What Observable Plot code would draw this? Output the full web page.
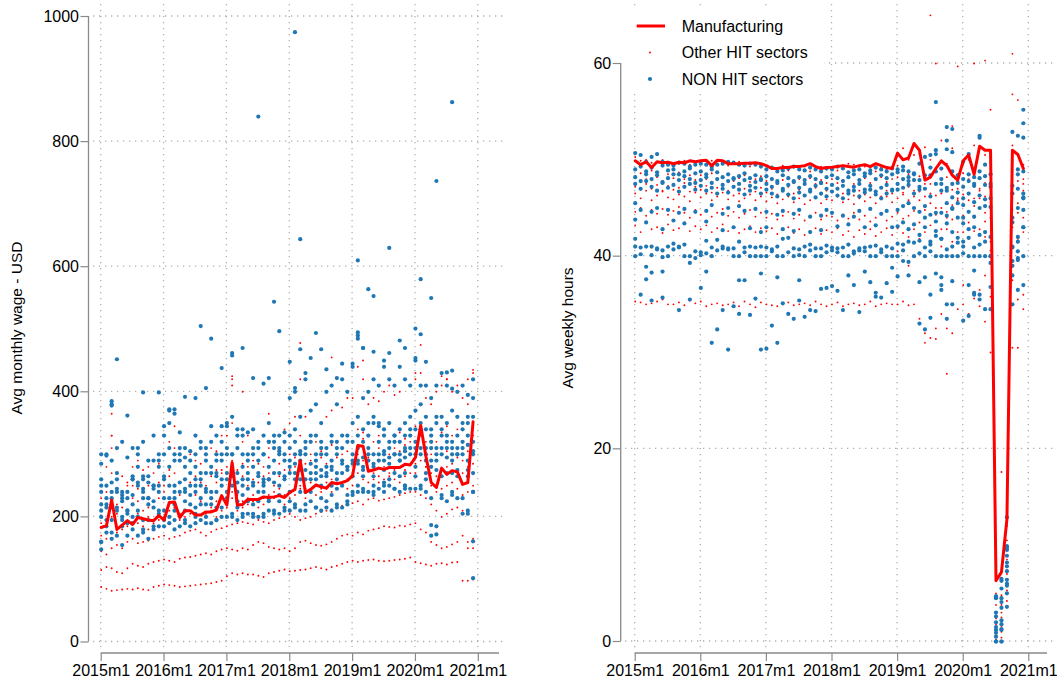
<!DOCTYPE html>
<html><head><meta charset="utf-8">
<script src="https://cdn.jsdelivr.net/npm/d3@7"></script>
<script src="https://cdn.jsdelivr.net/npm/@observablehq/plot@0.6"></script>
<style>
body{margin:0;background:#fff;}
#wrap{position:relative;width:1057px;height:683px;overflow:hidden;background:#fff;}
#wrap svg{position:absolute;top:0;}
</style></head><body><div id="wrap"></div>
<script>
// ---------- categories / ticks ----------
const yearTicks = [2015, 2016, 2017, 2018, 2019, 2020, 2021];
const yearLabels = ["2015m1", "2016m1", "2017m1", "2018m1", "2019m1", "2020m1", "2021m1"];
const wageTicks = [0, 200, 400, 600, 800, 1000];
const hoursTicks = [0, 20, 40, 60];
const legendNames = ["Manufacturing", "Other HIT sectors", "NON HIT sectors"];
const wageTitle = "Avg monthly wage - USD";
const hoursTitle = "Avg weekly hours";

// ---------- Manufacturing (72 months, 2015m1..2020m12) ----------
const manufWage = [183,186,227,180,187,194,188,199,197,195,194,202, 195,223,224,199,210,210,203,203,208,208,211,234,
  219,287,219,220,228,228,228,232,231,232,234,231, 239,244,290,239,244,251,248,246,255,253,255,258,
  266,314,313,273,275,278,276,279,279,279,284,283, 295,346,297,255,247,278,268,274,272,252,255,352];
const manufHours = [49.9,49.5,49.8,49.2,49.8,49.7,49.75,49.6,49.75,49.7,49.9,49.8, 49.9,49.95,49.4,49.95,49.9,49.6,49.6,49.6,49.65,49.65,49.7,49.6,
  49.4,49.1,49.1,49.2,49.2,49.3,49.3,49.4,49.6,49.3,49.1,49.2, 49.24,49.3,49.4,49.3,49.24,49.4,49.5,49.3,49.6,49.4,49.2,49.1,
  50.7,50.0,50.2,51.7,51.0,47.9,48.2,49.1,49.9,49.4,48.4,47.9, 49.9,50.5,48.5,51.4,51.0,51.0,6.3,7.2,12.7,51.0,50.55,49.1];

// ---------- NON HIT sectors, wage (one string per sector, 72 months; "-" = no point) ----------
const nonHitWage = [
"300 298 380 310 320 362 310 300 320 290 330 300 345 370 365 335 310 305 330 320 310 345 330 320 350 360 340 330 335 340 320 330 350 320 330 335 390 400 360 420 370 380 350 400 410 380 420 400 440 490 470 400 420 410 450 420 410 440 420 410 450 410 410 390 410 430 410 405 400 410 395 420",
"285 250 255 270 235 295 260 310 265 230 250 290 300 350 290 300 295 290 280 270 300 320 300 345 345 300 310 300 290 280 310 300 320 310 305 320 330 340 305 320 330 300 320 310 330 320 310 330 350 360 390 330 350 345 330 320 330 320 330 340 370 380 360 340 360 360 350 370 360 350 360 390",
"240 230 240 260 240 230 260 250 245 265 250 240 260 280 250 290 260 250 240 260 270 280 270 290 300 280 270 280 270 300 270 260 280 290 300 290 290 300 290 300 285 290 300 280 290 300 290 280 300 310 320 310 300 320 300 310 320 300 310 330 320 340 310 320 310 330 320 310 300 320 330 320",
"220 220 215 210 200 210 220 210 230 230 215 210 230 230 220 240 240 220 250 230 240 220 240 250 260 250 240 250 260 250 240 255 260 270 250 260 270 270 260 275 260 270 265 270 275 260 270 280 285 290 280 290 285 300 290 285 300 290 295 300 300 310 300 310 290 300 310 300 300 310 290 300",
"200 - 195 - 195 205 - 200 - 195 - 205 210 - 210 - 210 - 215 - 220 - 215 - 230 - 215 - 225 - 225 - 230 - 225 - 240 - 240 - 240 - 250 - 250 - 250 - 265 - 265 - 265 - 275 - 270 - 270 - 280 - 270 - 275 - 270 - 275 - 275 -",
"- 185 175 - 185 - 190 - 180 - 185 - 195 - 195 - 190 - 200 - 190 - 195 - - 200 - 205 - 205 - 200 - 210 - 210 - 220 - 210 - 215 - 225 - 215 - 220 240 - 240 - 240 - 250 - 245 - 245 - - 245 - 230 - 235 - 240 - 230 210 240",
"160 175 165 170 155 170 180 170 175 165 180 185 185 190 180 185 195 185 190 195 200 190 195 200 200 205 195 200 205 200 200 205 210 205 205 215 210 215 210 220 225 215 210 215 210 220 215 225 235 240 245 240 235 245 240 250 245 240 250 245 245 250 240 170 185 230 225 235 230 205 205 240",
"260 300 290 240 230 240 265 280 260 255 290 280 330 310 300 310 280 270 300 310 290 270 290 300 310 300 330 340 300 310 290 300 320 330 310 300 310 320 300 310 320 330 310 300 320 310 330 320 320 330 340 350 360 350 340 350 330 340 350 360 340 350 340 330 350 340 330 320 330 340 350 360",
"250 215 230 245 225 210 235 255 240 220 245 250 265 250 240 255 245 235 260 250 245 240 265 260 270 265 255 260 245 255 265 250 260 255 270 265 280 285 275 260 270 280 275 265 280 270 285 275 290 285 295 300 280 290 305 295 300 290 305 310 310 300 290 280 300 310 295 290 310 300 315 305",
"210 195 - 215 - 190 200 - 195 - 225 - - 200 230 - 225 - 205 220 - 230 - 215 240 - 225 235 - 220 - 240 225 - 235 - 225 260 - 240 - 260 230 - 235 245 - 235 - 250 275 - 250 - 255 260 - 265 250 - 265 - 260 290 - 265 - 270 265 - 265 270"
];
// single NON HIT wage points: [month index, value]
const nonHitWageExtra = [[3,452],[8,399],[11,399],[13,372],[14,372],[16,392],[18,390],[19,505],[20,406],[21,485],[23,438],[25,462],[25,458],[27,470],[29,422],[30,840],[31,413],[32,422],[33,544],[34,497],[36,448],[37,406],[37,975],[38,644],[38,468],[39,430],[40,454],[41,494],[42,468],[43,436],[45,422],[46,445],[48,445],[49,610],[49,495],[49,485],[50,470],[51,564],[52,553],[52,464],[54,440],[55,630],[55,462],[57,482],[58,470],[60,501],[60,454],[61,580],[61,492],[62,448],[63,550],[64,737],[66,431],[67,863],[67,434],[63,187],[64,172],[71,102],[71,161],[0,148],[0,160],[2,385],[2,378]];

// ---------- Other HIT sectors, wage ----------
const otherHitWage = [
"88 85 82 83 84 85 84 86 84 83 88 90 92 91 90 88 89 90 91 92 93 94 96 98 105 110 108 110 108 108 106 104 110 112 114 116 113 114 115 116 118 120 118 116 120 122 125 128 130 128 130 131 132 130 129 130 131 132 133 135 128 126 124 122 125 126 124 127 128 98 98 100",
"115 120 118 112 110 118 125 122 120 125 128 130 132 130 128 133 135 136 138 140 142 140 145 148 150 148 146 150 148 155 160 158 152 150 148 150 145 150 160 162 158 155 154 156 160 165 170 172 170 175 172 178 180 182 185 184 183 186 185 188 190 180 175 160 155 150 152 156 160 170 150 150",
"145 140 150 155 150 160 165 158 160 162 165 168 170 165 168 170 175 178 180 175 170 176 180 182 185 188 190 192 190 188 195 192 190 195 198 200 205 200 195 198 200 205 208 210 212 215 218 220 222 225 220 228 230 226 228 230 232 235 238 240 240 235 230 220 210 200 205 212 215 210 160 165",
"190 195 200 205 200 210 200 205 210 200 215 205 210 220 215 205 210 220 215 225 220 215 225 230 230 240 235 225 230 235 240 230 235 240 245 235 240 245 250 245 255 250 245 255 260 255 250 260 265 270 260 275 270 265 280 270 275 280 275 285 285 290 280 270 265 275 280 285 275 270 280 285",
"230 250 330 240 235 250 230 245 240 250 245 255 250 265 270 255 260 270 265 255 270 265 275 270 280 420 275 285 280 290 285 280 295 290 285 300 300 295 305 310 300 320 305 310 315 300 310 320 320 330 325 310 320 330 340 320 330 335 325 340 345 350 340 330 320 335 345 330 340 320 330 345",
"210 240 270 220 215 230 250 225 260 215 270 230 240 275 300 235 245 255 235 260 250 240 255 275 260 290 255 265 250 260 255 265 270 250 265 275 275 280 330 285 290 280 295 285 290 295 300 305 300 340 335 295 300 310 305 300 310 305 315 320 320 345 320 300 290 310 305 300 295 290 305 330",
"260 280 310 270 265 255 280 290 275 280 290 285 300 320 310 290 295 300 290 285 300 310 305 320 330 350 310 320 330 340 320 330 310 320 330 340 350 360 420 360 370 380 350 360 370 380 375 390 390 440 420 380 390 385 400 410 395 400 420 410 420 430 390 380 400 410 420 400 410 390 420 430",
"170 165 225 175 180 185 180 190 185 180 190 195 200 210 215 195 200 205 200 195 205 210 200 210 215 230 210 215 220 225 215 220 225 230 225 220 230 235 245 230 240 235 240 245 240 245 250 245 250 300 290 255 260 255 260 265 260 255 265 270 270 330 280 250 240 245 250 255 245 235 240 250"
];
const otherHitWageExtra = [[38,478],[44,455],[61,475],[23,330],[25,425],[25,410],[27,400],[32,365],[56,410],[60,430],[66,420],[71,435],[65,425],[70,380],[50,450],[2,330],[2,365],[14,345]];

// ---------- NON HIT sectors, hours ----------
const nonHitHours = [
"50.7 50.5 49.8 50.3 50.6 49.8 49.5 49.4 49.7 49.6 49.3 49.5 49.6 49.5 49.3 49.5 49.6 49.8 49.7 49.5 49.4 49.6 49.5 49.3 49.0 49.2 48.8 48.9 49.1 49.3 49.0 48.9 49.2 49.0 48.8 49.1 49.0 49.3 49.1 48.7 48.9 49.0 48.6 48.9 49.2 49.0 48.8 49.1 49.0 49.3 48.8 48.5 49.6 50.3 50.5 51.0 49.1 52.0 50.8 48.4 49.8 50.6 48.2 52.5 49.5 48.5 4.5 6.3 12.9 47.3 48.5 46.1",
"49.0 49.3 48.8 49.2 48.7 49.4 48.9 49.0 48.5 48.8 49.1 48.6 48.8 48.5 49.0 48.7 48.2 48.5 48.0 48.3 48.6 48.1 48.4 47.9 48.3 48.0 47.8 48.4 48.1 47.7 48.2 47.9 48.3 48.0 47.6 48.2 48.4 48.1 47.8 48.2 48.5 47.9 48.3 48.6 48.0 48.4 48.1 48.5 48.7 48.9 48.2 48.6 47.9 48.4 49.2 48.8 47.5 47.1 48.8 47.6 48.0 48.5 47.3 48.8 48.3 47.2 2.0 3.5 9.5 46.5 49.0 52.3",
"47.5 47.0 47.8 47.2 46.8 47.6 47.1 47.4 46.7 47.2 47.5 46.9 47.3 46.8 47.1 46.5 47.0 46.6 47.2 46.9 46.4 46.8 47.1 46.5 46.9 46.5 46.2 46.8 46.4 46.0 46.6 46.3 46.7 46.1 46.5 46.2 46.7 46.3 46.0 46.5 46.8 46.2 46.6 46.9 46.4 46.0 46.5 46.8 46.9 47.1 47.4 46.5 46.9 45.2 46.2 44.5 46.8 45.5 46.1 46.6 47.2 46.5 45.6 46.3 45.9 46.0 1.2 0.0 7.8 41.0 45.0 48.8",
"45.5 44.8 - 44.6 45.0 - 44.8 - 44.5 44.9 - 44.6 - 44.7 45.3 - 44.4 45.0 - 45.2 44.7 - 44.9 - 44.6 - 44.3 44.7 - 44.4 44.8 - 44.1 - 44.2 44.8 44.5 - 44.2 - 44.1 44.7 - 44.9 - 44.4 44.7 - 44.8 45.2 45.5 45.0 44.6 44.0 44.3 43.6 44.5 44.2 44.9 44.0 45.3 44.6 44.1 45.0 45.2 45.1 0.5 1.8 6.0 43.5 42.0 46.0",
"43.8 - 43.5 - - 42.8 - 43.7 - 43.4 - - - 43.6 - - 42.7 - 43.0 - - 42.9 - 42.5 43.0 - - 42.8 - 42.6 - - 42.5 - 42.7 - - 43.1 - 43.3 - - 43.0 - 43.2 - - 43.0 43.1 43.5 42.8 43.3 42.2 43.0 41.5 42.6 41.8 43.4 42.5 41.9 43.4 42.8 43.0 42.2 42.5 42.0 0.0 1.2 5.0 39.5 40.5 43.0",
"41.0 40.9 41.0 41.0 40.8 40.6 41.0 41.3 41.0 41.2 40.0 40.5 40.4 41.6 40.9 41.7 41.0 40.8 40.8 41.5 40.9 41.0 40.9 41.0 40.9 40.7 41.0 41.8 41.9 40.8 40.7 41.0 41.2 40.8 40.8 41.1 40.9 40.8 40.9 41.2 40.5 40.8 40.9 41.0 41.1 40.7 41.0 40.8 41.3 41.2 41.5 41.4 41.6 40.9 41.2 42.1 41.8 40.7 41.0 41.4 41.5 41.9 40.9 41.2 41.5 40.0 2.6 4.5 8.9 40.9 39.8 44.8",
"40.0 40.2 38.9 40.1 40.7 39.9 40.0 40.7 40.9 40.0 39.3 39.8 40.1 40.3 40.0 40.6 40.8 40.7 40.0 40.0 40.4 40.0 40.0 40.0 40.0 40.5 40.0 40.0 40.4 40.0 40.1 40.0 40.6 40.0 40.0 40.4 40.6 40.4 40.0 40.0 40.3 40.6 40.5 40.0 40.0 40.4 40.0 40.0 40.0 40.6 39.4 40.0 40.3 40.0 40.5 40.0 40.0 40.0 40.0 40.0 40.3 40.0 40.0 40.0 40.0 40.0 0.0 0.0 7.3 39.0 39.6 40.0",
"- 36.0 - 35.4 - 35.7 - - 34.4 - 35.5 - 36.7 - 31.0 32.4 34.4 30.3 34.8 34.0 37.5 33.9 35.6 30.3 30.4 32.8 31.0 35.1 34.0 33.5 35.4 33.7 34.4 34.3 36.6 36.7 36.9 36.4 34.4 38.0 - 34.2 38.4 - 35.8 35.7 37.2 36.3 - - - - 33.0 32.4 33.6 - 37.0 33.5 35.0 - 33.3 - 36.0 35.5 - 34.5 4.6 5.5 9.9 35.0 36.5 37.0",
"41.8 - 37.6 38.3 - 38.4 - - - - - - - 38.4 - - - - - 37.5 - - - 38.2 - - 37.8 - - - 37.5 - - - - - - - - - 37.0 - - 37.3 - - - - 37.9 - 38.0 - 37.3 37.8 36.0 38.2 37.8 35.0 37.4 - 41.0 37.0 36.2 36.0 34.5 36.8 3.0 6.5 8.2 38.0 41.5 43.0",
"48.2 47.8 48.5 48.0 48.4 47.7 48.1 48.5 47.9 48.3 48.0 47.6 47.9 48.2 47.6 48.0 47.4 47.8 48.1 47.5 47.9 47.3 47.7 48.0 47.5 47.2 47.6 47.0 47.4 47.8 47.1 47.5 46.9 47.3 47.6 47.0 47.4 47.0 47.3 46.8 47.2 47.5 46.9 47.3 46.7 47.1 47.4 46.9 47.5 48.0 47.8 47.9 47.2 47.0 48.4 47.5 48.0 46.8 47.5 45.5 46.0 47.8 47.5 48.1 47.4 47.5 1.5 2.2 6.4 44.0 47.0 46.5"
];
const nonHitHoursExtra = [[55,56.0],[57,53.4],[58,53.2],[57,51.1],[63,52.3],[69,52.9],[70,52.5],[71,55.2],[71,53.8],[65,39.3],[62,38.5],[61,33.8],[55,50.6],[58,45.0],[60,44.0],[56,36.5],[49,39.5],[47,38.8],[44,36.2],[66,4.7],[66,0.9],[67,4.1],[67,1.3],[68,9.7],[68,5.8],[68,3.6]];

// ---------- Other HIT sectors, hours ----------
const otherHitHours = [
"50.3 49.9 50.0 49.7 50.5 50.0 49.8 49.4 49.6 49.9 49.5 49.7 49.8 49.6 49.9 49.5 49.7 49.4 49.6 49.8 49.5 49.3 49.6 49.4 49.0 49.3 49.1 49.4 48.9 49.2 49.0 49.3 48.8 49.1 49.3 49.0 49.2 48.9 49.4 49.6 49.5 49.1 49.3 49.0 48.8 49.2 49.0 49.3 49.4 51.2 50.0 50.5 50.6 51.3 50.0 49.0 52.0 49.6 51.2 48.5 49.5 50.0 51.5 51.2 50.5 49.0 2.4 3.8 12.0 51.5 50.5 48.0",
"48.3 48.6 48.0 48.9 48.2 47.8 48.5 48.1 48.7 48.0 48.4 47.9 48.4 48.0 48.6 47.9 48.2 48.5 47.8 48.1 48.4 47.7 48.0 48.3 47.8 48.1 47.5 47.9 48.2 47.6 48.0 47.7 48.1 47.5 47.9 47.6 48.0 47.6 47.9 48.2 47.5 47.8 48.1 47.6 47.9 48.2 47.7 48.0 48.2 47.9 48.5 48.0 48.3 47.5 46.5 48.7 49.0 48.2 47.5 47.0 48.6 48.0 47.2 46.8 47.6 47.0 3.8 1.0 5.3 46.0 48.5 47.5",
"46.5 46.0 46.8 45.8 46.3 46.7 46.1 45.9 46.4 46.2 45.7 46.6 46.1 46.5 45.8 46.2 46.6 45.9 46.3 45.7 46.0 46.4 45.8 46.2 45.7 46.1 45.5 45.9 46.2 45.6 46.0 45.4 45.8 46.1 45.5 45.9 45.8 46.2 45.6 45.9 45.4 46.0 45.7 46.1 45.5 45.9 46.2 45.6 46.0 46.4 45.8 46.2 46.7 44.8 45.5 46.3 45.0 46.8 45.3 46.0 46.4 45.8 45.2 46.0 44.5 46.3 1.8 0.4 4.2 47.0 44.5 46.8",
"44.6 45.0 44.2 44.8 44.4 44.9 44.3 44.7 45.1 44.5 44.0 44.8 44.3 44.7 44.1 44.5 44.9 44.2 44.6 44.0 44.4 44.8 44.1 44.5 44.0 44.4 43.8 44.2 44.6 43.9 44.3 43.7 44.1 44.5 43.8 44.2 44.1 43.7 44.3 43.9 44.5 43.8 44.2 43.6 44.0 44.4 43.7 44.1 44.5 43.9 44.2 44.7 43.5 44.0 43.2 44.3 42.8 44.6 43.8 42.5 44.2 43.5 44.0 42.8 43.6 41.5 0.8 3.0 7.0 43.0 45.5 44.0",
"43.2 42.5 43.5 42.8 43.0 42.4 43.3 42.7 42.9 43.4 42.6 43.1 42.8 43.2 42.5 42.9 43.3 42.6 43.0 42.4 42.8 43.1 42.5 42.9 42.6 42.9 42.3 42.7 43.0 42.4 42.8 42.2 42.6 42.9 42.3 42.7 42.5 42.9 42.2 42.6 42.0 42.7 42.3 42.8 42.1 42.5 42.9 42.2 42.9 42.4 42.0 42.8 41.8 42.5 40.5 42.2 41.0 42.8 41.5 42.0 42.5 41.8 42.6 41.2 42.0 40.6 0.2 2.5 6.1 37.5 41.8 42.5",
"35.3 35.2 35.0 35.1 35.3 35.5 35.0 35.0 35.2 34.9 35.4 35.1 35.3 34.8 35.0 35.1 34.9 35.0 35.2 34.8 35.3 35.0 34.7 35.2 35.0 34.9 34.8 35.0 35.2 34.9 35.0 35.1 34.9 35.3 35.0 34.8 35.0 35.2 34.8 35.0 35.1 34.9 35.0 35.3 34.8 35.0 35.1 35.0 35.0 35.3 34.9 35.0 33.5 32.0 31.5 32.5 34.0 35.0 32.0 34.5 35.0 34.0 35.6 34.8 33.2 35.8 1.4 4.8 8.5 30.5 35.5 36.0",
"47.2 46.9 47.5 47.0 47.4 46.8 47.3 46.9 47.1 47.6 46.7 47.2 46.9 47.3 46.6 47.1 47.5 46.8 47.2 46.5 47.0 47.4 46.7 47.1 46.6 47.0 46.4 46.8 47.2 46.5 46.9 46.3 46.7 47.1 46.4 46.8 46.7 47.1 46.5 46.9 46.3 46.8 46.4 47.0 46.6 46.2 46.8 46.5 47.0 46.6 47.2 46.8 45.8 46.2 47.5 45.0 46.5 44.0 46.9 45.8 47.3 46.5 46.0 47.0 46.2 44.0 0.6 1.6 3.6 44.8 47.8 49.5"
];
const otherHitHoursExtra = [[54,65.0],[55,60.0],[59,59.7],[62,60.0],[64,60.3],[69,61.0],[65,55.2],[69,56.8],[70,56.2],[58,53.5],[67,17.6],[53,31.0],[55,31.4],[57,32.5],[57,27.8],[66,5.0],[68,10.5],[65,30.0],[70,30.5],[71,34.5],[63,36.5],[64,38.0],[60,37.0],[48,40.5],[50,39.0]];

// ---------- helpers ----------
const RED = "#ff0000", BLUE = "#1f77b4", AXIS = "#8a8a8a", GRID = "#b0b0b0";
const FONT = "'Liberation Sans', Arial, Helvetica, sans-serif";
const monthT = i => 2015 + i / 12;
const parse = s => s.trim().split(/\s+/).map(x => x === "-" ? null : +x);
function seriesRows(list) {
  const out = [];
  list.forEach(s => parse(s).forEach((v, i) => { if (v !== null) out.push({t: monthT(i), v}); }));
  return out;
}
const extraRows = arr => arr.map(([m, v]) => ({t: monthT(m), v}));
const lineRows = arr => arr.map((v, i) => ({t: monthT(i), v}));

function panel(cfg) {
  const p = Plot.plot({
    width: cfg.width, height: 683,
    marginLeft: cfg.axisX, marginRight: 0, marginTop: 0, marginBottom: 30,
    style: {fontFamily: FONT, fontSize: "16px", background: "transparent", overflow: "visible", color: "#000"},
    x: {domain: [2015, 2021], range: cfg.xRange, ticks: yearTicks,
        tickFormat: d => yearLabels[yearTicks.indexOf(d)], tickSize: 8, tickPadding: 3, label: null},
    y: {domain: cfg.yDomain, range: cfg.yRange, ticks: cfg.yTicks,
        tickFormat: d => String(d), tickSize: 8, tickPadding: 2, label: null},
    marks: [
      Plot.dot(cfg.red, {x: "t", y: "v", r: 0.95, fill: RED, stroke: "none"}),
      Plot.dot(cfg.blue, {x: "t", y: "v", r: 2.1, fill: BLUE, stroke: "none"}),
      Plot.line(cfg.line, {x: "t", y: "v", stroke: RED, strokeWidth: 3, strokeLinejoin: "round"})
    ]
  });
  const xs = p.scale("x"), ys = p.scale("y");
  const svg = d3.select(p);
  svg.style("left", cfg.left + "px");
  // gridlines behind everything
  const grid = svg.insert("g", ":first-child")
    .attr("stroke", GRID).attr("stroke-width", 1.3).attr("stroke-dasharray", "1.3 4.7").attr("fill", "none");
  cfg.yTicks.forEach(t => grid.append("line")
    .attr("x1", cfg.gridX[0]).attr("x2", cfg.gridX[1]).attr("y1", ys.apply(t)).attr("y2", ys.apply(t)));
  yearTicks.forEach(t => grid.append("line")
    .attr("x1", xs.apply(t)).attr("x2", xs.apply(t)).attr("y1", cfg.gridY[0]).attr("y2", cfg.gridY[1]));
  // tick color
  svg.selectAll('g[aria-label*="axis"] line, g[aria-label*="axis"] path').attr("stroke", AXIS).attr("stroke-width", 1.2);
  // axis lines
  const ax = svg.append("g").attr("stroke", AXIS).attr("stroke-width", 1.3);
  ax.append("line").attr("x1", cfg.axisX).attr("x2", cfg.axisX)
    .attr("y1", ys.apply(cfg.yDomain[0])).attr("y2", ys.apply(cfg.yTicks[cfg.yTicks.length - 1]));
  ax.append("line").attr("x1", xs.apply(2015)).attr("x2", cfg.xAxisEnd).attr("y1", 683 - 30).attr("y2", 683 - 30);
  // y title
  svg.append("text").attr("transform", `translate(${cfg.titleX},328) rotate(-90)`)
    .attr("text-anchor", "middle").attr("fill", "#000").style("font-size", "15.5px").text(cfg.title);
  return {p, svg};
}

const wrap = document.getElementById("wrap");

const L = panel({
  left: 0, width: 528, axisX: 88.5,
  xRange: [100.7, 477.8], yDomain: [0, 1000], yRange: [641.5, 16], yTicks: wageTicks,
  gridX: [93, 507], gridY: [4, 647], xAxisEnd: 499, titleX: 21.5, title: wageTitle,
  red: seriesRows(otherHitWage).concat(extraRows(otherHitWageExtra)),
  blue: seriesRows(nonHitWage).concat(extraRows(nonHitWageExtra)),
  line: lineRows(manufWage)
});
wrap.appendChild(L.p);

const R = panel({
  left: 528, width: 529, axisX: 92.7,
  xRange: [106.7, 500.3], yDomain: [0, 60], yRange: [641, 63], yTicks: hoursTicks,
  gridX: [97, 529], gridY: [4, 648], xAxisEnd: 519, titleX: 44.5, title: hoursTitle,
  red: seriesRows(otherHitHours).concat(extraRows(otherHitHoursExtra)),
  blue: seriesRows(nonHitHours).concat(extraRows(nonHitHoursExtra)),
  line: lineRows(manufHours)
});
wrap.appendChild(R.p);

// legend (top-left inside the right panel, white box over the grid)
const lg = R.svg.append("g").attr("text-anchor", "start");
lg.append("rect").attr("x", 96).attr("y", 8).attr("width", 200).attr("height", 86).attr("fill", "#fff");
lg.append("line").attr("x1", 108.7).attr("x2", 137).attr("y1", 26).attr("y2", 26).attr("stroke", RED).attr("stroke-width", 3);
lg.append("circle").attr("cx", 122).attr("cy", 52.5).attr("r", 0.95).attr("fill", RED);
lg.append("circle").attr("cx", 122).attr("cy", 79).attr("r", 2.1).attr("fill", BLUE);
[26, 52.5, 79].forEach((y, i) => lg.append("text").attr("x", 153.7).attr("y", y).attr("dy", "0.36em")
  .attr("text-anchor", "start").attr("fill", "#000").style("font-size", "16px").text(legendNames[i]));
</script>
</body></html>
